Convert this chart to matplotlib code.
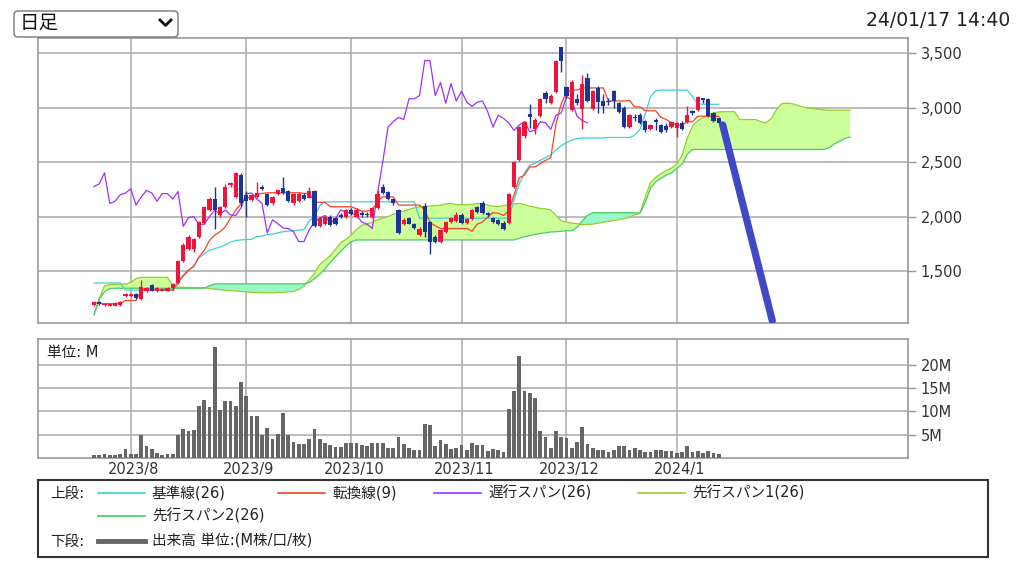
import numpy as np
import matplotlib.pyplot as plt
from matplotlib.patches import Rectangle, FancyBboxPatch
from matplotlib.lines import Line2D
from matplotlib.transforms import Affine2D

plt.rcParams['font.family'] = ['DejaVu Sans', 'Noto Sans CJK JP']

# daily candles, 2023/7/21 .. 2024/1/17 (trading-day index)
opens = [1190, 1215, 1185, 1180, 1180, 1185, 1270, 1275, 1290, 1240,
         1320, 1370, 1315, 1320, 1320, 1340, 1390, 1590, 1700, 1700,
         1810, 1940, 2060, 2160, 2010, 2090, 2290, 2180, 2380, 2200,
         2150, 2180, 2265, 2210, 2120, 2210, 2260, 2230, 2120, 2140,
         2200, 2170, 2230, 1910, 1930, 2000, 1990, 2010, 2000, 2060,
         2000, 2025, 2020, 2000, 2080, 2270, 2225, 2160, 2060, 1930,
         1985, 1935, 1830, 2100, 1950, 1815, 1770, 1860, 1950, 1960,
         2010, 1940, 1980, 2090, 2120, 2030, 1990, 1970, 1940, 1940,
         2270, 2520, 2740, 2940, 2800, 2920, 3130, 3040, 3140, 3555,
         3190, 2980, 3080, 2990, 3270, 2990, 3180, 3060, 3060, 3150,
         3040, 3000, 2820, 2910, 2930, 2880, 2800, 2880, 2840, 2830,
         2820, 2810, 2860, 2870, 2960, 2980, 3080, 3080, 2950, 2900]
highs = [1225, 1225, 1205, 1200, 1215, 1225, 1295, 1300, 1300, 1420,
         1350, 1385, 1350, 1345, 1350, 1390, 1600, 1760, 1830, 1800,
         1960, 2100, 2180, 2270, 2100, 2300, 2320, 2410, 2400, 2230,
         2210, 2320, 2290, 2215, 2190, 2250, 2365, 2240, 2220, 2225,
         2215, 2275, 2240, 2000, 2010, 2010, 2000, 2030, 2070, 2075,
         2075, 2050, 2040, 2090, 2240, 2300, 2230, 2170, 2070, 1985,
         2000, 1945, 1900, 2120, 1960, 1830, 1890, 1960, 1995, 2040,
         2030, 1990, 2070, 2100, 2140, 2040, 2000, 1980, 1960, 2220,
         2510, 2830, 2880, 3030, 2900, 3090, 3150, 3120, 3440, 3560,
         3200, 3250, 3120, 3300, 3320, 3160, 3200, 3120, 3090, 3160,
         3050, 3010, 2940, 2940, 2950, 2890, 2850, 2900, 2850, 2860,
         2880, 2870, 2880, 3010, 2980, 3110, 3090, 3090, 2960, 2910]
lows = [1180, 1190, 1180, 1175, 1175, 1180, 1260, 1265, 1245, 1235,
        1310, 1315, 1305, 1315, 1315, 1330, 1380, 1580, 1690, 1670,
        1800, 1930, 2050, 1890, 2000, 2080, 2270, 2170, 2100, 2000,
        2140, 2170, 2240, 2100, 2110, 2200, 2210, 2130, 2110, 2130,
        2150, 2170, 1900, 1900, 1920, 1915, 1920, 1990, 1990, 2010,
        1995, 2000, 1995, 1990, 2070, 2210, 2150, 2110, 1840, 1920,
        1930, 1885, 1820, 1815, 1660, 1760, 1760, 1850, 1940, 1950,
        1930, 1930, 1970, 2030, 2020, 2000, 1940, 1920, 1880, 1930,
        2260, 2510, 2720, 2810, 2760, 2910, 3040, 3030, 3130, 3330,
        3090, 2970, 3020, 2800, 3050, 2980, 2950, 2950, 3020, 3000,
        2950, 2810, 2810, 2880, 2850, 2780, 2790, 2790, 2770, 2780,
        2810, 2730, 2790, 2860, 2930, 2970, 3040, 2910, 2870, 2850]
closes = [1215, 1195, 1200, 1195, 1210, 1220, 1290, 1285, 1250, 1355,
          1340, 1320, 1340, 1335, 1340, 1380, 1590, 1740, 1810, 1790,
          1950, 2090, 2165, 2060, 2090, 2275, 2300, 2400, 2120, 2140,
          2200, 2215, 2255, 2105, 2180, 2240, 2215, 2140, 2210, 2210,
          2160, 2230, 1910, 1990, 2000, 1925, 1930, 2000, 2060, 2020,
          2060, 2015, 2010, 2080, 2210, 2215, 2160, 2120, 1850, 1970,
          1935, 1895, 1890, 1860, 1770, 1770, 1880, 1950, 1985, 2010,
          1940, 1980, 2060, 2040, 2030, 2010, 1950, 1930, 1890, 2210,
          2500, 2820, 2870, 2910, 2890, 3080, 3080, 3110, 3430, 3430,
          3110, 3230, 3040, 3220, 3060, 3150, 3050, 3010, 3050, 3060,
          2960, 2820, 2930, 2900, 2860, 2790, 2840, 2870, 2780, 2790,
          2870, 2860, 2800, 2930, 2950, 3100, 3070, 2920, 2880, 2860]
volume = [0.6, 0.6, 0.9, 0.6, 0.6, 0.9, 1.9, 0.9, 0.9, 4.9,
          2.5, 1.9, 1.1, 0.6, 0.9, 0.9, 4.9, 6.3, 5.7, 5.9,
          11.2, 12.4, 10.9, 23.7, 10.2, 12.2, 12.2, 11.2, 16.3, 13.2,
          9.0, 9.0, 5.0, 6.4, 4.1, 5.1, 9.6, 4.9, 3.5, 3.1,
          2.9, 4.1, 6.3, 4.1, 3.2, 2.7, 2.3, 2.3, 3.2, 3.2,
          3.2, 2.8, 2.6, 3.2, 3.2, 3.2, 2.2, 2.2, 4.4, 2.9,
          2.1, 1.8, 1.8, 7.3, 7.0, 2.5, 3.9, 2.9, 2.0, 2.2,
          2.7, 1.8, 3.2, 2.7, 2.7, 1.6, 2.0, 1.7, 1.3, 10.6,
          14.4, 21.8, 14.4, 13.9, 12.9, 5.7, 4.6, 2.2, 5.7, 4.5,
          4.2, 2.2, 3.5, 6.7, 2.9, 2.2, 1.8, 1.8, 1.3, 1.7,
          2.6, 2.6, 1.7, 2.2, 1.7, 1.3, 1.2, 1.8, 1.7, 1.6,
          1.6, 1.0, 1.2, 2.5, 1.2, 1.6, 1.1, 1.6, 1.1, 0.9]

# ichimoku lines
kijun = [1390] * 6 + [1325] * 9 + [
    1320, 1380, 1450, 1500, 1550, 1620, 1660, 1690, 1705, 1720,
    1740, 1765, 1780, 1785, 1790, 1790, 1815, 1820, 1835, 1840,
    1850, 1860, 1865, 1870, 1875, 1880, 1960, 2000, 2100] + [2135] * 18 + [1985] * 18 + [
    2150, 2300, 2400, 2470, 2490, 2515, 2540, 2565, 2610, 2650,
    2680, 2700, 2715, 2720, 2720, 2720, 2720, 2720, 2725, 2725,
    2725, 2725, 2725, 2745, 2800, 2940, 3100, 3155, 3160, 3160,
    3160, 3160, 3160, 3160, 3100, 3035, 3030, 3030, 3030, 3030]
tenkan = [1205, 1205, 1200, 1200, 1200, 1200, 1230, 1230, 1230] + [1325] * 7 + [
    1400, 1460, 1510, 1540, 1630, 1690, 1780, 1830, 1860, 1905,
    1985, 2060, 2120, 2165, 2185, 2200, 2212, 2218, 2218, 2218,
    2218, 2218, 2218, 2218, 2212, 2212, 2135, 2130, 2130, 2090,
    2090, 2090, 2090, 2090, 2070, 2050, 2050, 2060, 2140, 2180,
    2180, 2180, 2105, 2105, 2105, 2105, 2105, 2060, 1945, 1915,
    1890, 1890, 1890, 1890, 1890, 1890, 1865, 1930, 1950, 1995,
    2035, 2030, 2010, 2050, 2195, 2355, 2380, 2455, 2455, 2485,
    2515, 2540, 2850, 3035, 3140, 3160, 3160, 3180, 3180, 3180,
    3180, 3180, 3060, 3060, 3060, 3060, 3065, 3005, 3005, 2970,
    2970, 2970, 2910, 2890, 2860, 2840, 2840, 2870, 2870, 2920,
    2920, 2920, 2920, 2920]
span_a = [
    1100, 1250, 1365, 1375, 1378, 1380, 1380, 1395, 1430, 1442,
    1442, 1442, 1442, 1442, 1442, 1365, 1352, 1350, 1350, 1348,
    1348, 1347, 1340, 1332, 1328, 1325, 1320, 1318, 1312, 1308,
    1305, 1302, 1300, 1300, 1300, 1302, 1305, 1308, 1312, 1330,
    1360, 1420, 1480, 1560, 1600, 1640, 1700, 1760, 1790, 1830,
    1880, 1920, 1930, 1950, 1970, 1985, 2000, 2020, 2035, 2050,
    2065, 2080, 2090, 2090, 2095, 2100, 2105, 2115, 2120, 2110,
    2108, 2108, 2112, 2120, 2115, 2105, 2095, 2090, 2100, 2110,
    2115, 2120, 2110, 2095, 2085, 2075, 2070, 2060, 2010, 1960,
    1950, 1940, 1935, 1925, 1928, 1930, 1938, 1946, 1955, 1963,
    1972, 1980, 1995, 2015, 2030, 2180, 2310, 2360, 2395, 2420,
    2445, 2480, 2560, 2720, 2830, 2880, 2905, 2930, 2950, 2960,
    2962, 2962, 2962, 2890, 2890, 2890, 2890, 2870, 2860, 2900,
    2980, 3035, 3040, 3035, 3020, 3005, 2995, 2990, 2985, 2978,
    2975, 2975, 2975, 2975, 2975]
span_b = [1100, 1240, 1310, 1338] + [1342] * 18 + [1365] + [1382] * 18 + [
    1395, 1430, 1470, 1520, 1580, 1630, 1680, 1730, 1770] + [1785] * 31 + [
    1800, 1815, 1825, 1835, 1845, 1850, 1858, 1860, 1865, 1870,
    1870, 1900, 1960, 2010] + [2035] * 9 + [
    2030, 2130, 2260, 2320, 2350, 2380, 2400, 2440, 2480, 2570] + [2615] * 26 + [
    2630, 2665, 2690, 2715, 2730]

month_start = [7, 29, 49, 70, 90, 111]
month_labels = ['2023/8', '2023/9', '2023/10', '2023/11', '2023/12', '2024/1']
price_ticks = [1500, 2000, 2500, 3000, 3500]
vol_ticks = [5, 10, 15, 20]

# hand-drawn trend stroke on the reference
trend_x = [119.75, 129.2]
trend_y = [2840, 1045]

W, H = 1016, 561
fig = plt.figure(figsize=(W / 100, H / 100), dpi=100)
pix = Affine2D().scale(1 / 100, -1 / 100).translate(0, H / 100) + fig.dpi_scale_trans


def box(x0, y0, x1, y1):
    return [x0 / W, 1 - y1 / H, (x1 - x0) / W, (y1 - y0) / H]


ax = fig.add_axes(box(38, 38, 908, 323))
axv = fig.add_axes(box(38, 339, 908, 458))

GRID = '#aaaaaa'
for a in (ax, axv):
    a.set_xlim(-10.67, 155.05)
    for s in a.spines.values():
        s.set_color('#999999')
        s.set_linewidth(1.2)
    a.set_xticks(month_start)
    a.grid(True, color=GRID, lw=1.1)
    a.set_axisbelow(True)
    a.yaxis.tick_right()
    a.tick_params(axis='x', length=0, labelbottom=False)
    a.tick_params(axis='y', length=6, width=1, color='#999999',
                  labelsize=10.5, labelcolor='#333333', pad=3)

# --- price panel
ax.set_ylim(1023, 3638)
ax.set_yticks(price_ticks)
ax.set_yticklabels([f'{v:,}' for v in price_ticks])

o = np.array(opens, float)
c = np.array(closes, float)
idx = np.arange(len(c))
sidx = np.arange(len(span_a))
sa = np.array(span_a, float)
sb = np.array(span_b, float)

ax.fill_between(sidx, sa, sb, where=sa >= sb, interpolate=True,
                color='#ccff99', lw=0, zorder=1)
ax.fill_between(sidx, sa, sb, where=sa < sb, interpolate=True,
                color='#99f7c8', lw=0, zorder=1)
ax.plot(sidx, sa, color='#99cc33', lw=0.9, zorder=2)
ax.plot(sidx, sb, color='#44cc66', lw=0.9, zorder=2)

ax.plot(idx, kijun, color='#40d0d0', lw=0.9, zorder=3)
ax.plot(idx, tenkan, color='#ff4020', lw=0.9, zorder=3)
lag = 25
ax.plot(idx[:-lag], c[lag:], color='#a030ff', lw=0.9, zorder=3)

col = np.where(c >= o, '#f0143c', '#1c3494')
ax.vlines(idx, lows, highs, colors=col, lw=1.0, zorder=4)
ax.bar(idx, np.maximum(np.abs(c - o), 14), bottom=np.minimum(o, c),
       width=0.8, color=col, lw=0, zorder=5)

ax.plot(trend_x, trend_y, color='#4048c8', lw=5.2, solid_capstyle='round', zorder=6)

# --- volume panel
axv.set_ylim(0, 25.5)
axv.set_yticks(vol_ticks)
axv.set_yticklabels([f'{v}M' for v in vol_ticks])
axv.bar(idx, volume, width=0.75, color='#666666', lw=0, zorder=3)
axv.set_xticks(np.array(month_start) + 0.5, month_labels, minor=True)
axv.tick_params(axis='x', which='minor', length=0, labelsize=10.5,
                labelcolor='#333333', pad=3)
axv.text(47, 352, '単位: M', transform=pix, fontsize=10.5, va='center', color='#222222')

# --- header
fig.patches.append(FancyBboxPatch((14, 11), 164, 26, boxstyle='round,pad=0,rounding_size=4',
                                  transform=pix, fc='white', ec='#777777', lw=1))
fig.text(20, 23.5, '日足', transform=pix, fontsize=14, va='center', color='#111111')
fig.lines.append(Line2D([160, 165.5, 171], [20, 25.5, 20], transform=pix,
                        color='#111111', lw=2))
fig.text(1010, 20, '24/01/17 14:40', transform=pix, fontsize=13.5, ha='right',
         va='center', color='#222222')

# --- legend box
fig.patches.append(Rectangle((38, 480), 950, 77, transform=pix, fill=False,
                             ec='#333333', lw=1.5))
legend_rows = [
    (493, [('#40d0d0', '基準線(26)', 98), ('#ff4020', '転換線(9)', 278),
           ('#a030ff', '遅行スパン(26)', 434), ('#99cc33', '先行スパン1(26)', 638)]),
    (516, [('#44cc66', '先行スパン2(26)', 98)]),
]
fig.text(50, 493, '上段:', transform=pix, fontsize=10.5, va='center', color='#222222')
for yy, items in legend_rows:
    for color, label, x0 in items:
        fig.lines.append(Line2D([x0, x0 + 47], [yy, yy], transform=pix, color=color, lw=1.2))
        fig.text(x0 + 54, yy, label, transform=pix, fontsize=10.5, va='center', color='#222222')
fig.text(50, 541, '下段:', transform=pix, fontsize=10.5, va='center', color='#222222')
fig.lines.append(Line2D([98, 145], [541, 541], transform=pix, color='#666666', lw=3.5))
fig.text(152, 541, '出来高 単位:(M株/口/枚)', transform=pix, fontsize=10.5,
         va='center', color='#222222')

fig.savefig('out.png', dpi=100, facecolor='white')
